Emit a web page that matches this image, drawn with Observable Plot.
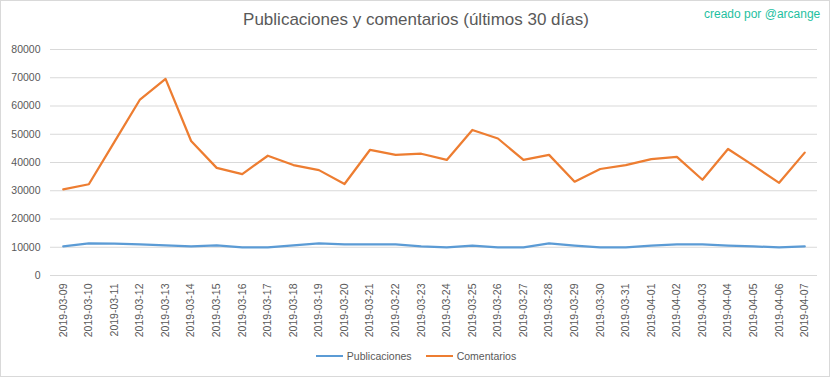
<!DOCTYPE html>
<html><head><meta charset="utf-8">
<script src="https://cdn.jsdelivr.net/npm/d3@7"></script>
<script src="https://cdn.jsdelivr.net/npm/@observablehq/plot@0.6"></script>
<style>
body{margin:0;background:#fff;font-family:"Liberation Sans",sans-serif;}
#wrap{position:relative;width:832px;height:378px;overflow:hidden;background:#fff;}
#frame{position:absolute;left:0;top:0;width:830px;height:377px;border:1px solid #d9d9d9;box-sizing:border-box;}
#title{position:absolute;top:10px;left:0;width:832px;text-align:center;font-size:17px;color:#595959;}
#credit{position:absolute;top:7px;left:704px;font-size:12px;color:#1fbf9f;white-space:nowrap;}
#chart{position:absolute;top:35px;left:0;}
#legend{position:absolute;top:350px;left:0;width:832px;display:flex;justify-content:center;align-items:center;font-size:10.5px;color:#595959;}
.item{display:flex;align-items:center;margin:0 7px;}
.sw{display:inline-block;width:27px;height:0;border-top:2px solid;margin-right:4px;}
</style></head>
<body>
<div id="wrap">
<div id="frame"></div>
<div id="title">Publicaciones y comentarios (últimos 30 días)</div>
<div id="credit">creado por @arcange</div>
<div id="chart"></div>
<div id="legend"></div>
</div>
<script>
const dates = ["2019-03-09","2019-03-10","2019-03-11","2019-03-12","2019-03-13","2019-03-14","2019-03-15","2019-03-16","2019-03-17","2019-03-18","2019-03-19","2019-03-20","2019-03-21","2019-03-22","2019-03-23","2019-03-24","2019-03-25","2019-03-26","2019-03-27","2019-03-28","2019-03-29","2019-03-30","2019-03-31","2019-04-01","2019-04-02","2019-04-03","2019-04-04","2019-04-05","2019-04-06","2019-04-07"];
const publicaciones = [10300,11350,11300,11000,10650,10300,10650,9950,9950,10650,11350,11000,11000,11000,10300,9950,10600,9950,9950,11400,10600,9950,9950,10600,11000,11000,10600,10300,9950,10300];
const comentarios = [30500,32300,47300,62300,69600,47600,38100,35900,42400,39100,37300,32400,44500,42700,43100,40900,51500,48500,40900,42700,33200,37700,39100,41200,42000,33900,44800,38900,32800,43500];
const series = ["Publicaciones","Comentarios"];
const colors = ["#5b9bd5","#ed7d31"];
const yTicks = [0,10000,20000,30000,40000,50000,60000,70000,80000];

const data = [
  ...dates.map((d,i)=>({date:d, value:publicaciones[i], series:series[0]})),
  ...dates.map((d,i)=>({date:d, value:comentarios[i], series:series[1]}))
];

const chart = Plot.plot({
  width:832, height:310,
  marginTop:14, marginBottom:70, marginLeft:50, marginRight:15,
  style:{fontFamily:"Liberation Sans, sans-serif", fontSize:"10.5px", color:"#595959", background:"transparent"},
  x:{type:"point", domain:dates, padding:0.5, round:false, label:null, tickRotate:-90, tickSize:0, tickPadding:8},
  y:{domain:[0,80000], ticks:yTicks, label:null, tickSize:0, tickPadding:10, tickFormat:d3.format("d")},
  color:{domain:series, range:colors},
  marks:[
    Plot.ruleY(yTicks,{stroke:"#d9d9d9", strokeWidth:1}),
    Plot.lineY(data,{x:"date", y:"value", stroke:"series", z:"series", strokeWidth:2.25})
  ]
});
document.getElementById("chart").appendChild(chart);

const legend = document.getElementById("legend");
series.forEach((s,i)=>{
  const it = document.createElement("div"); it.className="item";
  const sw = document.createElement("span"); sw.className="sw"; sw.style.borderTopColor = colors[i];
  const tx = document.createElement("span"); tx.textContent = s;
  it.appendChild(sw); it.appendChild(tx); legend.appendChild(it);
});
</script>
</body></html>
